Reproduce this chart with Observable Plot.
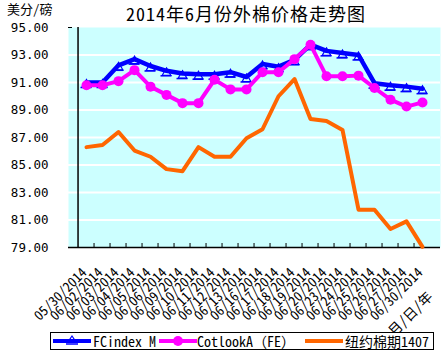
<!DOCTYPE html>
<html><head><meta charset="utf-8">
<script src="https://cdn.jsdelivr.net/npm/d3@7"></script>
<script src="https://cdn.jsdelivr.net/npm/@observablehq/plot@0.6"></script>
<style>
body{margin:0;background:#fff;}
#wrap{position:relative;width:448px;height:355px;overflow:hidden;background:#fff;
  font-family:"Noto Sans Mono CJK SC","Noto Sans CJK SC","Liberation Mono",monospace;color:#000;}
#head{position:relative;height:20px;}
#unit{position:absolute;left:7px;top:3px;font-size:13px;line-height:12px;white-space:nowrap;}
#title{position:absolute;left:0;width:492px;top:3px;text-align:center;font-size:18px;letter-spacing:1px;white-space:nowrap;line-height:20px;}
#chart svg{display:block;}
#legend{position:absolute;left:50px;top:332px;width:382px;height:16px;border:1px solid #000;display:flex;align-items:center;font-size:14px;white-space:nowrap;background:#fff;}
#legend svg{display:block;flex:none;}
#legend span{line-height:16px;}
</style></head>
<body>
<div id="wrap">
  <div id="head"><div id="unit">美分/磅</div><div id="title">2014年6月份外棉价格走势图</div></div>
  <div id="chart"></div>
  <div id="legend"></div>
</div>
<script>
const dates = ["05/30/2014","06/02/2014","06/03/2014","06/04/2014","06/05/2014","06/06/2014","06/09/2014","06/10/2014","06/11/2014","06/12/2014","06/13/2014","06/16/2014","06/17/2014","06/18/2014","06/19/2014","06/20/2014","06/23/2014","06/24/2014","06/25/2014","06/26/2014","06/27/2014","06/30/2014"];
const fcindex = [91.0,91.0,92.25,92.7,92.2,91.85,91.65,91.6,91.6,91.75,91.4,92.35,92.15,92.65,93.75,93.3,93.15,93.0,90.95,90.8,90.7,90.55];
const cotlook = [90.8,90.8,91.1,91.9,90.7,90.1,89.5,89.5,91.2,90.5,90.5,91.75,91.75,92.7,93.75,91.45,91.45,91.5,90.6,89.75,89.25,89.55];
const nyFutures = [86.3,86.45,87.4,86.05,85.6,84.7,84.55,86.3,85.6,85.6,86.95,87.6,90.0,91.25,88.35,88.2,87.55,81.75,81.75,80.35,80.9,79.05];
const yTicks = [79,81,83,85,87,89,91,93,95];
const seriesNames = ["FCindex M","CotlookA（FE）","纽约棉期1407"];
const colors = ["#0000FF","#FF00FF","#FF6600"];
const axisTitle = "月/日/年";

const FONT = '"Noto Sans Mono CJK SC","Noto Sans CJK SC","Liberation Mono",monospace';
const rows = dates.map((d,i)=>({date:d, fc:fcindex[i], cot:cotlook[i], ny:nyFutures[i]}));
const bw = (448-68-8)/dates.length;

const chart = Plot.plot({
  width:448, height:310,
  marginLeft:68, marginRight:8, marginTop:7, marginBottom:83,
  style:{fontFamily:FONT, fontSize:"14px", color:"#000", background:"transparent", overflow:"visible"},
  x:{type:"band", domain:dates, padding:0, axis:null},
  y:{domain:[79,95], axis:null, label:null},
  marks:[
    Plot.frame({fill:"#CCFFFF", stroke:null}),
    Plot.gridY(yTicks.filter(t=>t>79&&t<95), {stroke:"#fff", strokeOpacity:1, strokeWidth:2}),
    Plot.axisY({ticks:yTicks, tickFormat:d=>d.toFixed(2), tickSize:0, tickPadding:20, fontSize:12.5, fontFamily:"DejaVu Sans Mono", label:null}),
    Plot.axisY({ticks:[95], tickFormat:()=>"", tickSize:4, dx:4, label:null}),
    Plot.axisX({ticks:dates.slice(1), tickFormat:()=>"", tickSize:4, dy:-4, dx:-bw/2, label:null}),
    Plot.ruleY([79], {stroke:"#000", strokeWidth:1.5}),
    Plot.ruleX([dates[0]], {dx:-bw/2, stroke:"#000", strokeWidth:1.5}),
    Plot.text(dates, {x:d=>d, frameAnchor:"bottom", rotate:-45, textAnchor:"end", lineAnchor:"middle", dx:-2, dy:23, fontSize:13.5}),
    Plot.text([axisTitle], {x:()=>dates[dates.length-1], frameAnchor:"bottom", rotate:-45, textAnchor:"end", lineAnchor:"middle", dx:8, dy:47, fontSize:14}),
    Plot.dot(rows, {x:"date", y:"fc", symbol:"triangle", r:3.2, stroke:colors[0], fill:"none", strokeWidth:1.2, dy:2}),
    Plot.tickY(rows, {x:"date", y:"fc", stroke:colors[0], strokeWidth:1.5, insetLeft:2.5, insetRight:2.5, dy:5}),
    Plot.line(rows, {x:"date", y:"fc", stroke:colors[0], strokeWidth:4.5}),
    Plot.line(rows, {x:"date", y:"cot", stroke:colors[1], strokeWidth:4}),
    Plot.dot(rows, {x:"date", y:"cot", r:5, fill:colors[1]}),
    Plot.line(rows, {x:"date", y:"ny", stroke:colors[2], strokeWidth:4})
  ]
});
document.getElementById("chart").appendChild(chart);

// legend
const leg = d3.select("#legend");
const gaps = [[2,2],[3,0],[10,2]];
seriesNames.forEach((name,i)=>{
  const s = leg.append("svg").attr("width",38).attr("height",14).style("margin-left",gaps[i][0]+"px");
  s.append("line").attr("x1",0).attr("x2",38).attr("y1",7).attr("y2",7).attr("stroke",colors[i]).attr("stroke-width",4);
  if(i===0){
    s.append("path").attr("d","M19,2 L23,8 L15,8 Z").attr("fill","none").attr("stroke",colors[0]).attr("stroke-width",1.2);
    s.append("line").attr("x1",13).attr("x2",25).attr("y1",10).attr("y2",10).attr("stroke",colors[0]).attr("stroke-width",1.5);
  }
  if(i===1){
    s.append("circle").attr("cx",19).attr("cy",7).attr("r",5).attr("fill",colors[1]);
  }
  leg.append("span").text(name).style("margin-left",gaps[i][1]+"px");
});
</script>
</body></html>
